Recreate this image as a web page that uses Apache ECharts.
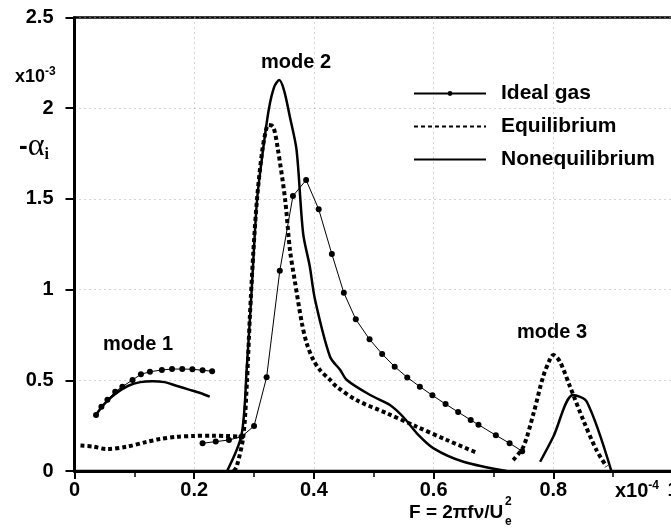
<!DOCTYPE html>
<html><head><meta charset="utf-8">
<script src="https://cdn.jsdelivr.net/npm/echarts@6/dist/echarts.min.js"></script>
<style>html,body{margin:0;padding:0;background:#fff}#c{width:671px;height:530px}</style>
</head><body><div id="c"></div>
<script>
// ---- data (x in 1e-4, y in 1e-3); null separates curve segments ----
const idealX = [0.036,0.045,0.055,0.068,0.080,0.097,0.111,0.126,0.146,0.163,0.180,0.197,0.214,0.230, null,
  0.214,0.236,0.258,0.279,0.300,0.321,0.343,0.365,0.387,0.408,0.430,0.450,0.470,0.493,0.514,0.535,0.556,0.577,0.598,0.620,0.641,0.662,0.675,0.704,0.727,0.748];
const idealY = [0.309,0.354,0.393,0.437,0.465,0.502,0.533,0.547,0.557,0.562,0.562,0.561,0.555,0.550, null,
  0.153,0.162,0.171,0.189,0.248,0.517,1.104,1.516,1.604,1.443,1.196,0.983,0.836,0.726,0.645,0.575,0.516,0.465,0.417,0.369,0.325,0.281,0.255,0.197,0.153,0.109];

const equilX = [0.010,0.030,0.054,0.087,0.120,0.143,0.170,0.198,0.230,0.254,0.277, null,
  0.266,0.271,0.282,0.288,0.293,0.299,0.305,0.313,0.320,0.324,0.332,0.340,0.352,0.360,0.368,0.380,0.388,0.399,0.410,0.427,0.438,0.471,0.522,0.572,0.622,0.672, null,
  0.733,0.750,0.767,0.783,0.795,0.800,0.811,0.828,0.850,0.872,0.889];
const equilY = [0.140,0.135,0.121,0.134,0.160,0.176,0.188,0.193,0.195,0.193,0.190, null,
  0.000,0.024,0.190,0.483,0.850,1.218,1.500,1.750,1.880,1.907,1.898,1.770,1.494,1.218,1.050,0.814,0.704,0.612,0.557,0.502,0.465,0.391,0.318,0.244,0.171,0.101, null,
  0.060,0.134,0.318,0.520,0.620,0.640,0.603,0.465,0.281,0.116,0.024];

const noneqX = [0.036,0.050,0.070,0.090,0.110,0.130,0.150,0.170,0.190,0.210,0.226, null,
  0.255,0.279,0.288,0.296,0.305,0.315,0.325,0.334,0.342,0.350,0.360,0.371,0.382,0.393,0.402,0.427,0.444,0.455,0.494,0.527,0.549,0.572,0.600,0.650,0.722, null,
  0.778,0.800,0.833,0.856,0.897];
const noneqY = [0.310,0.370,0.430,0.470,0.490,0.495,0.490,0.470,0.450,0.430,0.410, null,
  0.000,0.198,0.575,0.998,1.494,1.770,2.000,2.120,2.155,2.100,1.950,1.770,1.310,1.130,0.943,0.630,0.557,0.502,0.419,0.364,0.299,0.208,0.125,0.051,0.000, null,
  0.051,0.189,0.419,0.382,0.000];

const seriesNames = ['Ideal gas','Equilibrium','Nonequilibrium'];
const yTicks = [0,0.5,1,1.5,2,2.5];
const xTicks = [0,0.2,0.4,0.6,0.8,1];

function pairs(xs, ys){ return xs.map((x,i)=> x===null ? null : [x, ys[i]]); }

const F = 'Liberation Sans, Arial, sans-serif';
const chart = echarts.init(document.getElementById('c'), null, {renderer:'canvas'});
chart.setOption({
  animation:false,
  backgroundColor:'#fff',
  grid:{left:74.5, top:17.5, width:598.5, bottom:59, show:true, borderColor:'#000', borderWidth:2.5,
        containLabel:false, outerBoundsMode:'none'},
  xAxis:{type:'value', min:xTicks[0], max:xTicks[xTicks.length-1], interval:0.2,
    axisLine:{lineStyle:{color:'#000', width:3}},
    axisTick:{show:true, inside:false, length:8, lineStyle:{color:'#000', width:2}},
    minorTick:{show:true, splitNumber:2, length:6, lineStyle:{color:'#000', width:1.5}},
    axisLabel:{color:'#000', fontFamily:F, fontWeight:'bold', fontSize:20, margin:9, showMaxLabel:true, hideOverlap:false},
    splitLine:{show:true, lineStyle:{color:'#aaa', type:[1,4], width:1}}},
  yAxis:{type:'value', min:yTicks[0], max:yTicks[yTicks.length-1], interval:0.5,
    axisLine:{lineStyle:{color:'#000', width:3}},
    axisTick:{show:true, inside:false, length:9, lineStyle:{color:'#000', width:2}},
    axisLabel:{color:'#000', fontFamily:F, fontWeight:'bold', fontSize:20, margin:21},
    splitLine:{show:true, lineStyle:{color:'#aaa', type:[1,4], width:1}}},
  legend:{orient:'vertical', left:413, top:82, itemWidth:72, itemHeight:6, itemGap:10, padding:0,
    data:[{name:seriesNames[0]},
          {name:seriesNames[1], itemStyle:{opacity:0}},
          {name:seriesNames[2], itemStyle:{opacity:0}}],
    textStyle:{color:'#000', fontFamily:F, fontWeight:'bold', fontSize:21, lineHeight:23, padding:[0,0,0,10]}},
  series:[
    {name:seriesNames[0], type:'line', data:pairs(idealX, idealY), connectNulls:false,
     symbol:'circle', symbolSize:6, showSymbol:true, itemStyle:{color:'#000'},
     lineStyle:{color:'#000', width:1}, z:3},
    {name:seriesNames[1], type:'line', data:pairs(equilX, equilY), connectNulls:false,
     symbol:'none', smooth:0.3, itemStyle:{color:'#000'},
     lineStyle:{color:'#000', width:4, type:[4,3], cap:'butt'}, z:2},
    {name:seriesNames[2], type:'line', data:pairs(noneqX, noneqY), connectNulls:false,
     symbol:'none', smooth:0.3, itemStyle:{color:'#000'},
     lineStyle:{color:'#000', width:2.5}, z:2}
  ],
  graphic:[
    {type:'text', left:15, top:66, style:{text:'{a|x10}{s|-3}', rich:{a:{fontFamily:F, fontWeight:'bold', fontSize:18, fill:'#000'}, s:{fontFamily:F, fontWeight:'bold', fontSize:12, fill:'#000', padding:[0,0,10,0]}}}},
    {type:'text', left:19, top:131, style:{text:'{m|-}{a|α}{i|i}', rich:{m:{fontFamily:F, fontWeight:'bold', fontSize:26, fill:'#000'}, a:{fontFamily:'Liberation Serif, serif', fontSize:32, fill:'#000'}, i:{fontFamily:'Liberation Serif, serif', fontWeight:'bold', fontSize:16, fill:'#000', padding:[16,0,0,0]}}}},
    {type:'text', left:103, top:334, style:{text:'mode 1', fontFamily:F, fontWeight:'bold', fontSize:20, fill:'#000'}},
    {type:'text', left:261, top:52, style:{text:'mode 2', fontFamily:F, fontWeight:'bold', fontSize:20, fill:'#000'}},
    {type:'text', left:517, top:322, style:{text:'mode 3', fontFamily:F, fontWeight:'bold', fontSize:20, fill:'#000'}},
    {type:'text', left:615, top:480, style:{text:'{a|x10}{s|-4}', rich:{a:{fontFamily:F, fontWeight:'bold', fontSize:20, fill:'#000'}, s:{fontFamily:F, fontWeight:'bold', fontSize:12, fill:'#000', padding:[0,0,11,0]}}}},
    {type:'text', left:409, top:503, style:{text:'F = 2πfν/U', fontFamily:F, fontWeight:'bold', fontSize:19, fill:'#000'}},
    {type:'text', left:505, top:496, style:{text:'2', fontFamily:F, fontWeight:'bold', fontSize:12, fill:'#000'}},
    {type:'text', left:505, top:516, style:{text:'e', fontFamily:F, fontWeight:'bold', fontSize:12, fill:'#000'}}
  ]
});
</script></body></html>
